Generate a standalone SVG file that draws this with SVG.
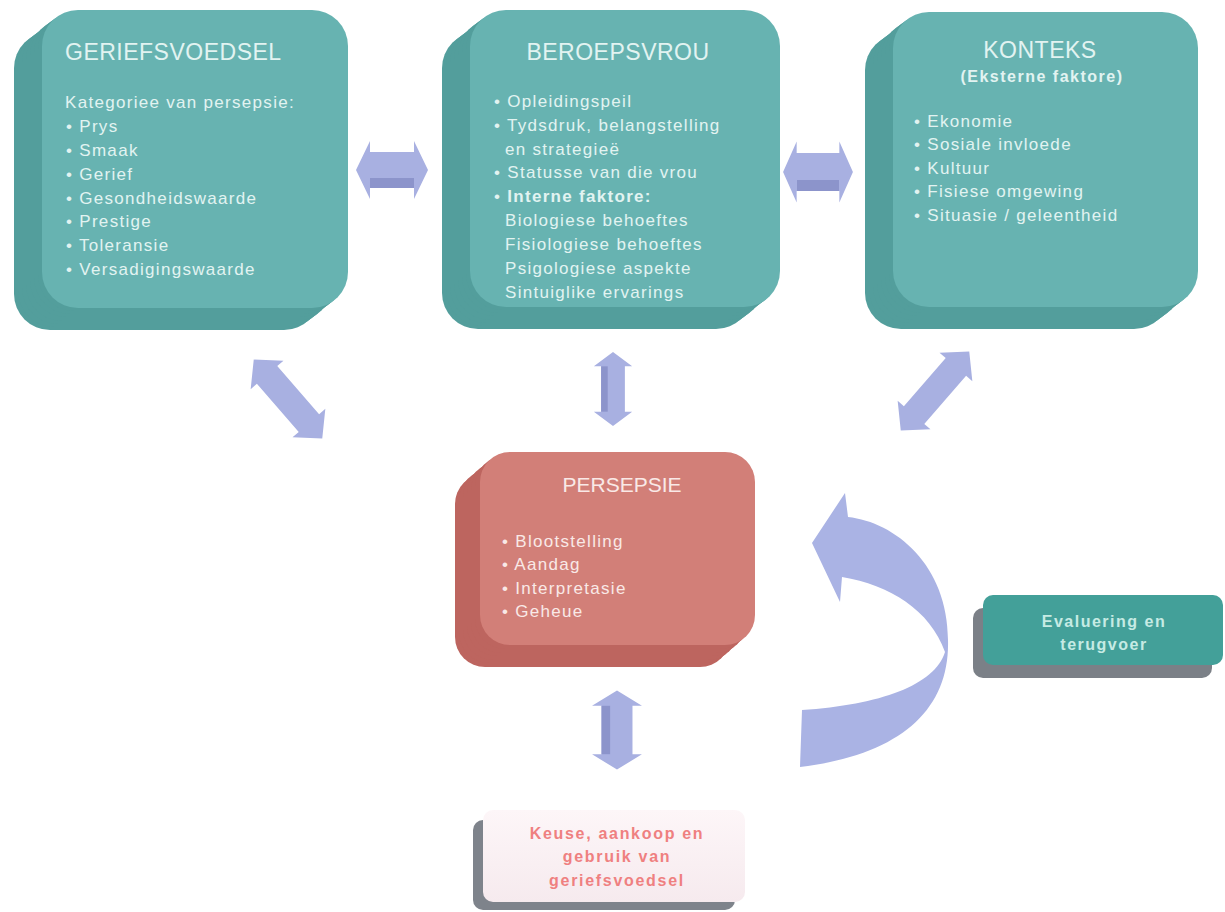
<svg xmlns="http://www.w3.org/2000/svg" xmlns:xlink="http://www.w3.org/1999/xlink" width="1225" height="912" viewBox="0 0 1225 912">
<defs>
<style>
.face{fill:#67b3b1}
.side{fill:#539e9c}
.rface{fill:#d27f78}
.rside{fill:#bd655f}
.tt{font-family:"Liberation Sans",Arial,sans-serif;fill:#e2f3f1}
.title{font-size:23px;letter-spacing:0.5px}
.body{font-size:17px;letter-spacing:1.3px}
.rt{font-family:"Liberation Sans",Arial,sans-serif;fill:#f9e9e7}
.arr{fill:#a8b0e1}
.arrd{fill:#8c94cb}
.curve{fill:#aab3e4}
</style>
<linearGradient id="kg" x1="0" y1="0" x2="0" y2="1">
<stop offset="0" stop-color="#fdf6f8"/>
<stop offset="1" stop-color="#f6eaee"/>
</linearGradient>
<rect id="f1" x="42" y="10" width="306" height="298" rx="36"/>
<rect id="f2" x="470" y="10" width="310" height="297" rx="36"/>
<rect id="f3" x="893" y="12" width="305" height="295" rx="36"/>
<rect id="f4" x="480" y="452" width="275" height="193" rx="30"/>
<g id="harrow">
<polygon points="-36,0 -22,-29 -22,-18 22,-18 22,-29 36,0 22,29 22,18 -22,18 -22,29"/>
</g>
</defs>
<rect width="1225" height="912" fill="#ffffff"/>

<g id="connectors">
<g transform="translate(392,170)">
<use xlink:href="#harrow" class="arr"/>
<rect x="-22" y="8" width="44" height="10" class="arrd"/>
</g>
<g transform="translate(818,172)">
<use xlink:href="#harrow" class="arr" transform="scale(0.97,1.05)"/>
<rect x="-21" y="8" width="42" height="11" class="arrd"/>
</g>
<g transform="translate(613,389) rotate(90) scale(1.03,0.66)">
<use xlink:href="#harrow" class="arr"/>
<rect x="-22" y="8" width="44" height="10" class="arrd"/>
</g>
<g transform="translate(617,730) rotate(90) scale(1.1,0.86)">
<use xlink:href="#harrow" class="arr"/>
<rect x="-22" y="8" width="44" height="10" class="arrd"/>
</g>
<g transform="translate(288,399) rotate(49) scale(1.45,0.75)">
<use xlink:href="#harrow" class="arr"/>
</g>
<g transform="translate(935,391) rotate(-49) scale(1.45,0.75)">
<use xlink:href="#harrow" class="arr"/>
</g>
<path class="curve" d="M845,493 L848,517 C895,522 948,565 948,640 C950,710 900,755 800,767 L802,710 C880,705 935,685 945,652 C930,610 890,585 842,577 L840,602 L812,543 Z"/>
</g>

<g id="geriefsvoedsel">
<g class="side">
<use xlink:href="#f1" transform="translate(-28,22)"/>
<use xlink:href="#f1" transform="translate(-24,19)"/>
<use xlink:href="#f1" transform="translate(-20,16)"/>
<use xlink:href="#f1" transform="translate(-16,13)"/>
<use xlink:href="#f1" transform="translate(-12,9)"/>
<use xlink:href="#f1" transform="translate(-8,6)"/>
<use xlink:href="#f1" transform="translate(-4,3)"/>
</g>
<use xlink:href="#f1" class="face"/>
<text class="tt title" x="65" y="60">GERIEFSVOEDSEL</text>
<g class="tt body">
<text x="65" y="108">Kategoriee van persepsie:</text>
<text x="66" y="132">• Prys</text>
<text x="66" y="156">• Smaak</text>
<text x="66" y="180">• Gerief</text>
<text x="66" y="204">• Gesondheidswaarde</text>
<text x="66" y="227">• Prestige</text>
<text x="66" y="251">• Toleransie</text>
<text x="66" y="275">• Versadigingswaarde</text>
</g>
</g>

<g id="beroepsvrou">
<g class="side">
<use xlink:href="#f2" transform="translate(-28,22)"/>
<use xlink:href="#f2" transform="translate(-24,19)"/>
<use xlink:href="#f2" transform="translate(-20,16)"/>
<use xlink:href="#f2" transform="translate(-16,13)"/>
<use xlink:href="#f2" transform="translate(-12,9)"/>
<use xlink:href="#f2" transform="translate(-8,6)"/>
<use xlink:href="#f2" transform="translate(-4,3)"/>
</g>
<use xlink:href="#f2" class="face"/>
<text class="tt title" x="618" y="60" text-anchor="middle">BEROEPSVROU</text>
<g class="tt body">
<text x="494" y="107">• Opleidingspeil</text>
<text x="494" y="131">• Tydsdruk, belangstelling</text>
<text x="505" y="155">en strategieë</text>
<text x="494" y="178">• Statusse van die vrou</text>
<text x="494" y="202"><tspan>• </tspan><tspan font-weight="bold">Interne faktore:</tspan></text>
<text x="505" y="226">Biologiese behoeftes</text>
<text x="505" y="250">Fisiologiese behoeftes</text>
<text x="505" y="274">Psigologiese aspekte</text>
<text x="505" y="298">Sintuiglike ervarings</text>
</g>
</g>

<g id="konteks">
<g class="side">
<use xlink:href="#f3" transform="translate(-28,22)"/>
<use xlink:href="#f3" transform="translate(-24,19)"/>
<use xlink:href="#f3" transform="translate(-20,16)"/>
<use xlink:href="#f3" transform="translate(-16,13)"/>
<use xlink:href="#f3" transform="translate(-12,9)"/>
<use xlink:href="#f3" transform="translate(-8,6)"/>
<use xlink:href="#f3" transform="translate(-4,3)"/>
</g>
<use xlink:href="#f3" class="face"/>
<text class="tt title" x="1040" y="58" text-anchor="middle">KONTEKS</text>
<text class="tt" x="1042" y="82" text-anchor="middle" font-size="16" font-weight="bold" letter-spacing="1.5">(Eksterne faktore)</text>
<g class="tt body">
<text x="914" y="127">• Ekonomie</text>
<text x="914" y="150">• Sosiale invloede</text>
<text x="914" y="174">• Kultuur</text>
<text x="914" y="197">• Fisiese omgewing</text>
<text x="914" y="221">• Situasie / geleentheid</text>
</g>
</g>

<g id="persepsie">
<g class="rside">
<use xlink:href="#f4" transform="translate(-25,22)"/>
<use xlink:href="#f4" transform="translate(-21,18)"/>
<use xlink:href="#f4" transform="translate(-17,15)"/>
<use xlink:href="#f4" transform="translate(-13,11)"/>
<use xlink:href="#f4" transform="translate(-9,8)"/>
<use xlink:href="#f4" transform="translate(-5,4)"/>
</g>
<use xlink:href="#f4" class="rface"/>
<text class="rt" x="622" y="492" text-anchor="middle" font-size="21">PERSEPSIE</text>
<g class="rt body">
<text x="502" y="547">• Blootstelling</text>
<text x="502" y="570">• Aandag</text>
<text x="502" y="594">• Interpretasie</text>
<text x="502" y="617">• Geheue</text>
</g>
</g>

<g id="evaluering">
<rect x="973" y="608" width="239" height="70" rx="10" fill="#7b8087"/>
<rect x="983" y="595" width="240" height="70" rx="10" fill="#43a099"/>
<text x="1104" y="627" text-anchor="middle" font-family="'Liberation Sans',Arial,sans-serif" font-size="16" font-weight="bold" letter-spacing="1.5" fill="#c6ebe4">Evaluering en</text>
<text x="1104" y="650" text-anchor="middle" font-family="'Liberation Sans',Arial,sans-serif" font-size="16" font-weight="bold" letter-spacing="1.5" fill="#c6ebe4">terugvoer</text>
</g>

<g id="keuse">
<rect x="473" y="820" width="262" height="90" rx="10" fill="#7e838b"/>
<rect x="483" y="810" width="262" height="92" rx="10" fill="url(#kg)"/>
<g font-family="'Liberation Sans',Arial,sans-serif" font-size="16" font-weight="bold" letter-spacing="1.7" fill="#ef8080" text-anchor="middle">
<text x="617" y="839">Keuse, aankoop en</text>
<text x="617" y="862">gebruik van</text>
<text x="617" y="886">geriefsvoedsel</text>
</g>
</g>
</svg>
